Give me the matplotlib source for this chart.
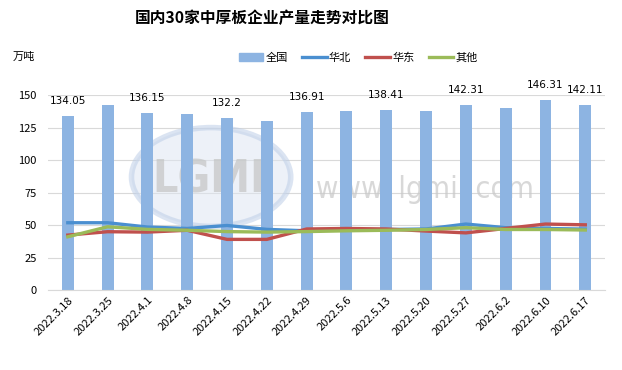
import matplotlib.pyplot as plt
from matplotlib.patches import Ellipse, Patch
from matplotlib.lines import Line2D
import numpy as np

plt.rcParams['font.family'] = ['Noto Sans CJK SC', 'DejaVu Sans']

# data
dates = ['2022.3.18', '2022.3.25', '2022.4.1', '2022.4.8', '2022.4.15', '2022.4.22', '2022.4.29',
         '2022.5.6', '2022.5.13', '2022.5.20', '2022.5.27', '2022.6.2', '2022.6.10', '2022.6.17']
total = [134.05, 142.3, 136.15, 135.4, 132.2, 130.0, 136.91,
         137.7, 138.41, 137.7, 142.31, 140.0, 146.31, 142.11]
north = [51.8, 51.8, 48.5, 47.4, 49.7, 46.7, 45.6, 46.6, 46.6, 47.0, 50.8, 48.0, 47.4, 46.9]
east = [42.3, 44.9, 44.6, 46.0, 39.0, 39.0, 47.0, 47.4, 47.0, 45.4, 44.0, 47.4, 50.8, 50.2]
other = [41.0, 48.7, 46.7, 46.0, 45.0, 44.6, 45.0, 45.6, 46.0, 46.6, 48.0, 46.6, 46.6, 46.2]
labelled = [0, 2, 4, 6, 8, 10, 12, 13]

bar_color = '#8db4e2'
north_color = '#4a8fd0'
east_color = '#c0504d'
other_color = '#9bbb59'

fig = plt.figure(figsize=(6.22, 3.70), dpi=100)
ax = fig.add_axes([0.077, 0.216, 0.896, 0.527])

x = np.arange(len(dates))
ax.bar(x, total, width=0.3, color=bar_color, zorder=2)
ax.plot(x, north, color=north_color, lw=2.4, zorder=3)
ax.plot(x, east, color=east_color, lw=2.4, zorder=3)
ax.plot(x, other, color=other_color, lw=2.4, zorder=4)

for i in labelled:
    ax.annotate(f'{total[i]:g}', (x[i], total[i]), xytext=(0, 11), textcoords='offset points',
                ha='center', va='center', fontsize=7.5, family='DejaVu Sans', annotation_clip=False)

ax.set_xlim(-0.5, len(dates) - 0.5)
ax.set_ylim(0, 150)
ax.set_yticks(range(0, 151, 25))
ax.grid(axis='y', color='#d9d9d9', lw=0.8, zorder=0)
ax.set_axisbelow(True)
for s in ['top', 'right', 'left']:
    ax.spines[s].set_visible(False)
ax.spines['bottom'].set_color('#d9d9d9')
ax.tick_params(axis='both', length=0, labelsize=8)
ax.tick_params(axis='y', pad=8)
ax.set_xticks(x)
ax.set_xticklabels(dates, rotation=45, ha='right', rotation_mode='anchor', fontsize=8)

# faint watermark (logo + site address)
ax.add_patch(Ellipse((3.6, 87), 4.0, 76, facecolor='#dde5f2', edgecolor='#b9cbe6', lw=4,
                     alpha=0.5, zorder=1.5))
ax.text(3.55, 85, 'LGMI', ha='center', va='center', fontsize=32, color='#c4c4c4', alpha=0.7,
        family='DejaVu Sans', fontstretch='condensed', fontweight='bold', zorder=1.6)
ax.text(8.97, 77, 'www. lgmi. com', ha='center', va='center', fontsize=22, color='#c8c8c8',
        alpha=0.7, family='DejaVu Sans', fontstretch='condensed', zorder=1.6)

fig.text(0.421, 0.951, '国内30家中厚板企业产量走势对比图', ha='center', va='center',
         fontsize=11.3, fontweight='bold')
fig.text(0.02, 0.845, '万吨', ha='left', va='center', fontsize=8)

handles = [Patch(color=bar_color), Line2D([], [], color=north_color, lw=2.4),
           Line2D([], [], color=east_color, lw=2.4), Line2D([], [], color=other_color, lw=2.4)]
fig.legend(handles, ['全国', '华北', '华东', '其他'], loc='center', bbox_to_anchor=(0.576, 0.845),
           ncol=4, frameon=False, fontsize=8, handlelength=2.2, handletextpad=0.2, columnspacing=1.3)

plt.savefig('out.png', dpi=100)
plt.close()
